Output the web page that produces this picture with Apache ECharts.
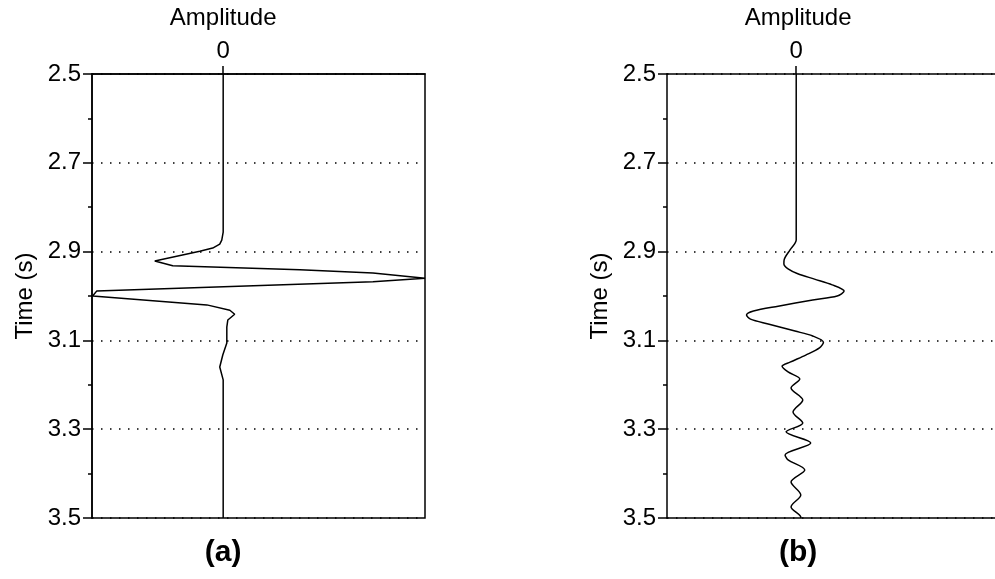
<!DOCTYPE html>
<html>
<head>
<meta charset="utf-8">
<script src="https://cdn.jsdelivr.net/npm/echarts@6/dist/echarts.min.js"></script>
<style>
  html, body { margin: 0; padding: 0; background: #fff; }
  #chart { width: 995px; height: 579px; }
</style>
</head>
<body>
<div id="chart"></div>
<script>
// trace (a): time in s, amplitude normalised to the peak
const timeA = [2.5, 2.856, 2.874, 2.883, 2.892, 2.899, 2.921, 2.932, 2.941, 2.948, 2.96, 2.968, 2.989, 3.0,
  3.02, 3.032, 3.041, 3.054, 3.07, 3.106, 3.133, 3.16, 3.189, 3.279, 3.5];
const ampA = [0, 0, -0.007, -0.017, -0.052, -0.116, -0.339, -0.25, 0.38, 0.742, 1.0, 0.742, -0.627, -0.647,
  -0.081, 0.033, 0.057, 0.023, 0.018, 0.018, -0.002, -0.017, 0, 0, 0];

// trace (b)
const timeB = [2.5, 2.851, 2.874, 2.896, 2.919, 2.928, 2.939, 2.95, 2.962, 2.975, 2.989, 3.0, 3.009, 3.023,
  3.034, 3.043, 3.052, 3.063, 3.079, 3.09, 3.104, 3.117, 3.133, 3.149, 3.158, 3.171, 3.187, 3.207, 3.234,
  3.261, 3.286, 3.306, 3.331, 3.358, 3.369, 3.392, 3.419, 3.448, 3.475, 3.498, 3.5];
const ampB = [0, 0, 0, -0.031, -0.061, -0.062, -0.041, 0.008, 0.092, 0.181, 0.241, 0.206, 0.083, -0.091,
  -0.215, -0.25, -0.23, -0.141, -0.006, 0.083, 0.137, 0.117, 0.048, -0.031, -0.071, -0.041, 0.018, -0.026, 0.033,
  -0.016, 0.033, -0.051, 0.073, -0.056, -0.041, 0.043, -0.026, 0.023, -0.026, 0.023, 0.023];

const timeTicks = [2.5, 2.7, 2.9, 3.1, 3.3, 3.5];
const ampTicks = [0];
const panelLabels = ['(a)', '(b)'];

const FONT = '"Liberation Sans", Arial, Helvetica, sans-serif';
const FS = 24;
const chart = echarts.init(document.getElementById('chart'), null, { renderer: 'canvas' });

const panelLeft = [92, 667];
const panelW = 333;
const axisLine = { show: true, onZero: false, lineStyle: { color: '#000', width: 1.5 } };

function topAxis(i) {
  return {
    gridIndex: i, type: 'value', position: 'top', min: -0.65, max: 1,
    axisLine: axisLine,
    axisTick: { show: true, customValues: ampTicks, length: 8, lineStyle: { color: '#000', width: 1.5 } },
    axisLabel: { customValues: ampTicks, formatter: v => String(v), color: '#000', fontSize: FS, fontFamily: FONT, margin: 11 },
    splitLine: { show: false }
  };
}

function bottomAxis(i) {
  return {
    gridIndex: i, type: 'value', position: 'bottom', min: -0.65, max: 1,
    axisLine: axisLine, axisTick: { show: false }, axisLabel: { show: false }, splitLine: { show: false }
  };
}

function leftAxis(i) {
  return {
    gridIndex: i, type: 'value', inverse: true, min: 2.5, max: 3.5, interval: 0.2,
    name: 'Time (s)', nameLocation: 'middle', nameGap: 55, nameRotate: 90,
    nameTextStyle: { color: '#000', fontSize: FS, fontFamily: FONT },
    axisLine: axisLine,
    axisTick: { show: true, length: 9, lineStyle: { color: '#000', width: 1.5 } },
    minorTick: { show: true, splitNumber: 2, length: 4, lineStyle: { color: '#000', width: 1.5 } },
    axisLabel: { formatter: v => v.toFixed(1), color: '#000', fontSize: FS, fontFamily: FONT, margin: 11,
      customValues: timeTicks },
    splitLine: { show: true, lineStyle: { color: '#000', width: 1.5, type: [1.5, 7.5] } }
  };
}

const option = {
  animation: false,
  backgroundColor: '#fff',
  grid: [
    { left: panelLeft[0], top: 74, width: panelW, height: 444, show: true, borderColor: '#000', borderWidth: 1.5 },
    { left: panelLeft[1], top: 74, width: panelW, height: 444, show: false }
  ],
  xAxis: [topAxis(0), topAxis(1), bottomAxis(1)],
  yAxis: [leftAxis(0), leftAxis(1)],
  series: [
    {
      type: 'line', xAxisIndex: 0, yAxisIndex: 0, symbol: 'none',
      data: timeA.map((t, k) => [ampA[k], t]),
      lineStyle: { color: '#000', width: 1.5 }
    },
    {
      type: 'line', xAxisIndex: 1, yAxisIndex: 1, symbol: 'none', smooth: 0.3,
      data: timeB.map((t, k) => [ampB[k], t]),
      lineStyle: { color: '#000', width: 1.5 }
    }
  ],
  graphic: [0, 1].flatMap(i => {
    const zeroX = panelLeft[i] + panelW * 0.65 / 1.65;
    return [
      { type: 'text', x: zeroX, y: 18, style: { text: 'Amplitude', fill: '#000', font: FS + 'px ' + FONT, textAlign: 'center', textVerticalAlign: 'middle' } },
      { type: 'text', x: zeroX, y: 553, style: { text: panelLabels[i], fill: '#000', font: 'bold 30px ' + FONT, textAlign: 'center', textVerticalAlign: 'middle' } }
    ];
  })
};

chart.setOption(option);
</script>
</body>
</html>
